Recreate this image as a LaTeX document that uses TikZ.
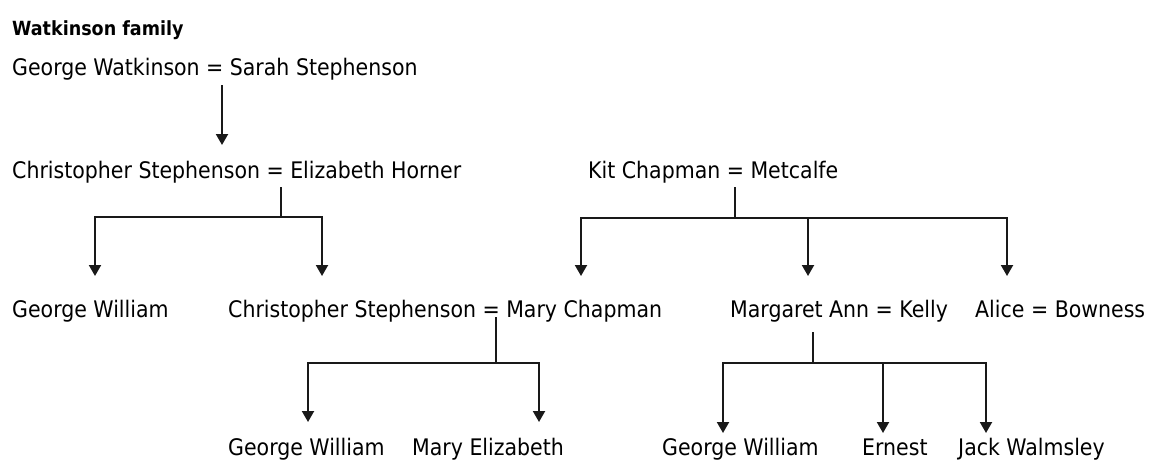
\documentclass[tikz,border=0pt]{standalone}
\usepackage{fontspec}
\setmainfont{DejaVu Sans Condensed}
\newfontfamily\titlefont{DejaVu Sans Condensed Bold}
\usetikzlibrary{arrows.meta}
\begin{document}
\begin{tikzpicture}[x=1pt,y=-1pt,
  person/.style={anchor=base west,inner sep=0pt,font=\fontsize{22.8}{27}\selectfont},
  titlestyle/.style={anchor=base west,inner sep=0pt,font=\titlefont\fontsize{19.5}{24}\selectfont},
  link/.style={line width=2pt,draw=black!90},
  arr/.style={link,-{Triangle[width=12pt,length=11pt]}}]
\useasboundingbox (0,0) rectangle (1150,459);
\fill[white] (0,0) rectangle (1150,459);
% texts
\node[titlestyle] (title) at (12,35) {Watkinson family};
\node[person] (r1) at (12,75) {George Watkinson = Sarah Stephenson};
\node[person] (r2a) at (12,178) {Christopher Stephenson = Elizabeth Horner};
\node[person] (r2b) at (588,178) {Kit Chapman = Metcalfe};
\node[person] (r3a) at (12,317) {George William};
\node[person] (r3b) at (228,317) {Christopher Stephenson = Mary Chapman};
\node[person] (r3c) at (730,317) {Margaret Ann = Kelly};
\node[person] (r3d) at (975,317) {Alice = Bowness};
\node[person] (r4a) at (228,455) {George William};
\node[person] (r4b) at (412,455) {Mary Elizabeth};
\node[person] (r4c) at (662,455) {George William};
\node[person] (r4d) at (862,455) {Ernest};
\node[person] (r4e) at (958,455) {Jack Walmsley};
% coordinates
\coordinate (a0) at (222,85);  \coordinate (a1) at (222,145);
\coordinate (c1s) at (281,187); \coordinate (c1j) at (281,217);
\coordinate (c1l) at (95,276);  \coordinate (c1r) at (322,276);
\coordinate (ks) at (735,187);  \coordinate (kj) at (735,218);
\coordinate (kl) at (581,276);  \coordinate (km) at (808,276); \coordinate (kr) at (1007,276);
\coordinate (m1s) at (496,317); \coordinate (m1j) at (496,363);
\coordinate (m1l) at (308,422); \coordinate (m1r) at (539,422);
\coordinate (m2s) at (813,332); \coordinate (m2j) at (813,363);
\coordinate (m2l) at (723,433); \coordinate (m2m) at (883,433); \coordinate (m2r) at (986,433);
% connectors
\draw[arr] (a0) -- (a1);
\draw[link] (c1s) -- (c1j);
\draw[arr] (c1j) -| (c1l);
\draw[arr] (c1j) -| (c1r);
\draw[link] (ks) -- (kj);
\draw[arr] (kj) -| (kl);
\draw[arr] (kj) -| (kr);
\draw[arr] (km |- kj) -- (km);
\draw[link] (m1s) -- (m1j);
\draw[arr] (m1j) -| (m1l);
\draw[arr] (m1j) -| (m1r);
\draw[link] (m2s) -- (m2j);
\draw[arr] (m2j) -| (m2l);
\draw[arr] (m2j) -| (m2r);
\draw[arr] (m2m |- m2j) -- (m2m);
\end{tikzpicture}
\end{document}
